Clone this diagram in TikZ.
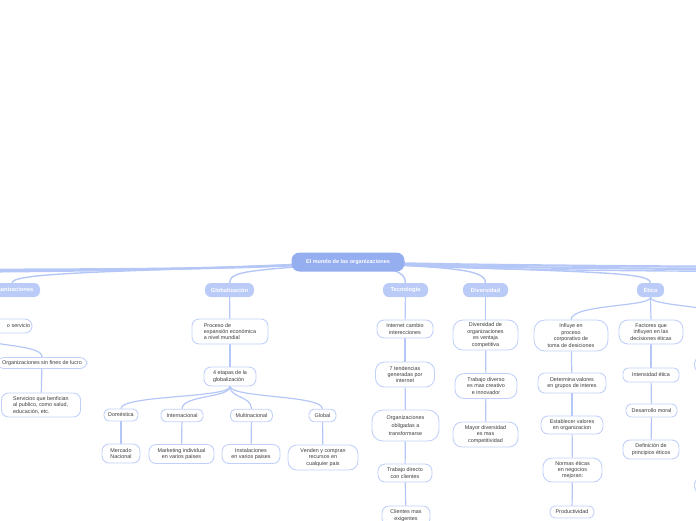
\documentclass[tikz,border=0pt]{standalone}
\usepackage{fontspec}
\setmainfont{Liberation Sans}
\definecolor{rootfill}{HTML}{95AEF0}
\definecolor{topfill}{HTML}{BACBF8}
\definecolor{linec}{HTML}{B5C7F7}
\definecolor{bordc}{HTML}{C2D1FA}
\definecolor{txtc}{HTML}{3A3A3A}
\pgfdeclarelayer{bg}
\pgfsetlayers{bg,main}
\tikzset{
  rootnode/.style={fill=rootfill, text=white, rounded corners=8pt, inner sep=0pt,
    font=\fontsize{5.5}{6.5}\selectfont\bfseries, minimum width=113, minimum height=19},
  topic/.style={fill=topfill, text=white, rounded corners=6pt, inner sep=0pt,
    font=\fontsize{5.7}{6.7}\selectfont\bfseries, minimum height=14},
  sub/.style={draw=bordc, line width=0.9pt, rounded corners=7pt, fill=white, text=txtc,
    font=\fontsize{5.4}{6.4}\selectfont, align=center, inner sep=0pt},
  sz/.style 2 args={minimum width=#1, minimum height=#2},
  conn/.style={draw=linec, line width=1.2pt},
  mainconn/.style={draw=linec, line width=1.4pt},
  band/.style={draw=linec, line width=2.2pt},
}
\begin{document}
\begin{tikzpicture}[x=1pt,y=-1pt]
\useasboundingbox (0,0) rectangle (696,520);
\clip (0,0) rectangle (696,520);

% root and topics
\node[rootnode] (root) at (348,262) {El mundo de las organizaciones};
\node[topic, minimum width=56] (org) at (12,290) {Organizaciones};
\node[topic, minimum width=49] (glob) at (229.5,290) {Globalización};
\node[topic, minimum width=45] (tec) at (405.5,290) {Tecnología};
\node[topic, minimum width=45] (div) at (485.5,290) {Diversidad};
\node[topic, minimum width=27] (eti) at (650.5,290) {Ética};

% off-screen targets
\coordinate (offL1) at (-60,270);
\coordinate (offL2) at (-160,272);
\coordinate (offR1) at (760,267);
\coordinate (offR2) at (820,270);
\coordinate (offR3) at (880,272);
\coordinate (offE) at (745,322);
\coordinate (offO) at (-40,336);

% Organizaciones branch
\node[sub, sz={50}{14}, anchor=east, align=right, text width=46] (serv) at (32.5,326) {o servicio};
\node[sub, sz={90}{11}] (osfl) at (42,363) {Organizaciones sin fines de lucro};
\node[sub, sz={79}{24}, align=left] (bene) at (41,405) {Servicios que benfician\\al publico, como salud,\\educación, etc.};

% Globalizacion branch
\node[sub, sz={76}{25}, align=left] (proc) at (230,331.5) {Proceso de\\expansión económica\\a nivel mundial};
\node[sub, sz={52}{19}, align=left] (etap) at (230,376.5) {4 etapas de la\\globalización};
\node[sub, sz={34}{12}, rounded corners=5pt] (dom) at (121,415) {Doméstica};
\node[sub, sz={42}{12.5}, rounded corners=5pt] (inter) at (182,415.5) {Internacional};
\node[sub, sz={42}{12.5}, rounded corners=5pt] (multi) at (251.5,415.5) {Multinacional};
\node[sub, sz={27}{12.5}, rounded corners=5pt] (globs) at (322.5,415.5) {Global};
\node[sub, sz={38}{19}] (merc) at (121,453.5) {Mercado\\Nacional};
\node[sub, sz={65}{19}] (mark) at (181.5,454) {Marketing individual\\en varios paises};
\node[sub, sz={58}{19}] (inst) at (251,454) {Instalaciones\\en varios paises};
\node[sub, sz={70}{25}, rounded corners=9pt] (vend) at (323,457.5) {Venden y compran\\recursos en\\cualquier pais};

% Tecnologia branch
\node[sub, sz={56}{18}] (inet) at (405,329) {Internet cambio\\interecciones};
\node[sub, sz={59}{25}, rounded corners=9pt] (tend) at (405,374.5) {7 tendencias\\generadas por\\internet};
\node[sub, sz={67}{31}, rounded corners=11pt, font=\fontsize{5.4}{8}\selectfont] (oblig) at (405.5,425.5) {Organizaciones\\obligadas a\\transformarse};
\node[sub, sz={54}{18}] (trab) at (405,473) {Trabajo directo\\con clientes};
\node[sub, sz={48}{19}] (clie) at (406,515.5) {Clientes mas\\exigentes};

% Diversidad branch
\node[sub, sz={65}{30}, rounded corners=10pt] (divo) at (485.5,335) {Diversidad de\\organizaciones\\es ventaja\\competitiva};
\node[sub, sz={62}{25}, rounded corners=9pt] (tdiv) at (486,386) {Trabajo diverso\\es mas creativo\\e innovador};
\node[sub, sz={65}{25}, rounded corners=9pt] (mdiv) at (485.5,434.5) {Mayor diversidad\\es mas\\competitividad};

% Etica branch
\node[sub, sz={74}{31}, rounded corners=11pt] (infl) at (571,335.5) {Influye en\\proceso\\corporativo de\\toma de desiciones};
\node[sub, sz={68}{20}] (detv) at (572,383) {Determina valores\\en grupos de interes};
\node[sub, sz={62}{18}] (estv) at (572,425) {Establecer valores\\en organizacion};
\node[sub, sz={59}{24}, rounded corners=9pt] (norm) at (572.5,470) {Normas éticas\\en negocios\\mejoran:};
\node[sub, sz={44}{12}, rounded corners=5pt] (prod) at (572,512) {Productividad};
\node[sub, sz={64}{24}, rounded corners=9pt] (fact) at (651,332) {Factores que\\influyen en las\\decisiones éticas};
\node[sub, sz={56}{14}, rounded corners=5pt] (inte) at (651,375) {Intensidad ética};
\node[sub, sz={51}{13}, rounded corners=5pt] (desa) at (651.5,410.5) {Desarrollo moral};
\node[sub, sz={56}{19}] (defi) at (651,449.5) {Definición de\\principios éticos};
\node[sub, sz={40}{13}, anchor=west, rounded corners=5pt] (rA) at (694,364.5) {};
\node[sub, sz={40}{13}, anchor=west, rounded corners=5pt] (rB) at (694,485.5) {};

\begin{pgfonlayer}{bg}
  % root connectors
  \draw[band] (root.center) .. controls (250,270) and (100,269) .. (offL1);
  \draw[band] (root.center) .. controls (250,268) and (100,272) .. (offL2);
  \draw[mainconn] (root.center) .. controls (150,272) and (13,271) .. (org.north);
  \draw[mainconn] (root.center) .. controls (262,271) and (229.5,269) .. (glob.north);
  \draw[mainconn] (root.center) .. controls (392,268) and (405.5,271) .. (tec.north);
  \draw[mainconn] (root.center) .. controls (445,268) and (485.5,268) .. (div.north);
  \draw[mainconn] (root.center) .. controls (560,273) and (650.5,270) .. (eti.north);
  \draw[band] (root.center) .. controls (450,265) and (600,266) .. (offR1);
  \draw[band] (root.center) .. controls (450,268) and (600,268) .. (offR2);
  \draw[mainconn] (root.center) .. controls (450,270) and (600,271) .. (offR3);
  % Organizaciones
  \draw[conn] (offO) .. controls (0,347) and (42,345) .. (osfl.north);
  \draw[conn] (osfl) -- (bene);
  % Globalizacion
  \draw[conn] (glob) -- (proc);
  \draw[conn] (proc) -- (etap);
  \draw[conn] (etap.south) .. controls (230,398) and (121,395) .. (dom.north);
  \draw[conn] (etap.south) .. controls (230,398) and (182,395) .. (inter.north);
  \draw[conn] (etap.south) .. controls (230,398) and (251.5,396) .. (multi.north);
  \draw[conn] (etap.south) .. controls (232,398) and (322.5,395) .. (globs.north);
  \draw[conn] (dom) -- (merc);
  \draw[conn] (inter) -- (mark);
  \draw[conn] (multi) -- (inst);
  \draw[conn] (globs) -- (vend);
  % Tecnologia
  \draw[conn] (tec) -- (inet);
  \draw[conn] (inet) -- (tend);
  \draw[conn] (tend) -- (oblig);
  \draw[conn] (oblig) -- (trab);
  \draw[conn] (trab) -- (clie);
  % Diversidad
  \draw[conn] (div) -- (divo);
  \draw[conn] (divo) -- (tdiv);
  \draw[conn] (tdiv) -- (mdiv);
  % Etica
  \draw[conn] (eti.south) .. controls (651,307) and (572,304) .. (infl.north);
  \draw[conn] (eti.south) -- (fact.north);
  \draw[conn] (eti.south) .. controls (651,307) and (720,304) .. (offE);
  \draw[conn] (infl) -- (detv);
  \draw[conn] (detv) -- (estv);
  \draw[conn] (estv) -- (norm);
  \draw[conn] (norm) -- (prod);
  \draw[conn] (fact) -- (inte);
  \draw[conn] (inte) -- (desa);
  \draw[conn] (desa) -- (defi);
\end{pgfonlayer}
\end{tikzpicture}
\end{document}
